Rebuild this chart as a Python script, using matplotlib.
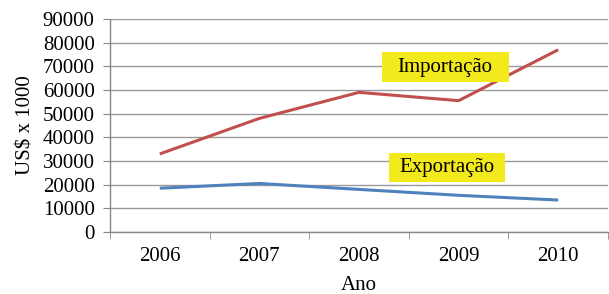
import matplotlib.pyplot as plt
from matplotlib.patches import Rectangle
from matplotlib.ticker import FixedLocator

plt.rcParams['font.family'] = ['Liberation Serif', 'DejaVu Serif']

anos = ['2006', '2007', '2008', '2009', '2010']
importacao = [33000, 48000, 59000, 55500, 77000]
exportacao = [18500, 20500, 18000, 15500, 13500]
y_ticks = list(range(0, 90001, 10000))

fig = plt.figure(figsize=(6.09, 2.94), dpi=100)
ax = fig.add_axes([110 / 609, 1 - 232 / 294, 498 / 609, 213 / 294])

x = list(range(len(anos)))
ax.plot(x, importacao, color='#C0504D', linewidth=2.2, solid_capstyle='butt')
ax.plot(x, exportacao, color='#4F81BD', linewidth=2.2, solid_capstyle='butt')

ax.set_xlim(-0.5, len(anos) - 0.5)
ax.set_ylim(0, 90000)
ax.set_yticks(y_ticks)
ax.set_yticklabels([str(v) for v in y_ticks], fontsize=15)
ax.set_xticks(x)
ax.set_xticklabels(anos, fontsize=15)
ax.tick_params(axis='x', length=0, pad=11)
ax.xaxis.set_minor_locator(FixedLocator([i - 0.5 for i in range(len(anos) + 1)]))
ax.tick_params(axis='x', which='minor', length=5, color='#888888', direction='out')
ax.tick_params(axis='y', length=5, color='#888888', direction='out', pad=6)

ax.grid(axis='y', color='#9a9a9a', linewidth=1.0)
ax.set_axisbelow(True)
for s in ['top', 'right']:
    ax.spines[s].set_visible(False)
for s in ['left', 'bottom']:
    ax.spines[s].set_color('#888888')
    ax.spines[s].set_linewidth(1.0)

ax.set_ylabel('US$ x 1000', fontsize=15, labelpad=5)
ax.set_xlabel('Ano', fontsize=15, labelpad=7)

amarelo = '#F2EA1C'
ax.add_patch(Rectangle((0.546, 0.704), 0.255, 0.141, transform=ax.transAxes,
                       facecolor=amarelo, edgecolor='none', zorder=3))
ax.add_patch(Rectangle((0.560, 0.235), 0.233, 0.136, transform=ax.transAxes,
                       facecolor=amarelo, edgecolor='none', zorder=3))
ax.text(0.673, 0.772, 'Importação', transform=ax.transAxes, fontsize=15,
        ha='center', va='center', zorder=4)
ax.text(0.677, 0.302, 'Exportação', transform=ax.transAxes, fontsize=15,
        ha='center', va='center', zorder=4)

fig.savefig('out.png', dpi=100)
